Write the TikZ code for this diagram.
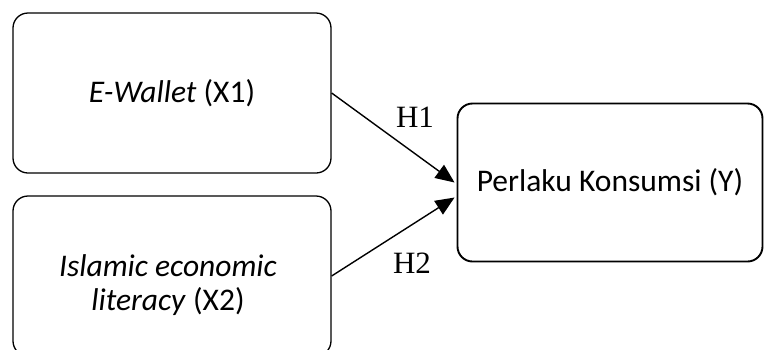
\documentclass[tikz,border=0pt]{standalone}
\usepackage{fontspec}
\setmainfont{Carlito}
\newfontfamily\hfont{Liberation Serif}
\usetikzlibrary{arrows.meta}
\begin{document}
\begin{tikzpicture}[x=1pt,y=-1pt,
  varbox/.style={draw=black,line width=1.3pt,rounded corners=15pt,align=center,inner sep=0pt,
    font=\fontsize{31.5}{34}\selectfont},
  hyparrow/.style={line width=1.4pt,-{Triangle[length=19pt,width=16pt]}},
  hlabel/.style={font=\hfont\fontsize{31}{32}\selectfont,inner sep=0pt}]
\useasboundingbox (0,0) rectangle (764,349);
\clip (0,0) rectangle (764,349);
\node[varbox,minimum width=318pt,minimum height=160pt] (x1) at (172,93) {\textit{E-Wallet} (X1)};
\node[varbox,minimum width=318pt,minimum height=160pt] (x2) at (172,276) {};
\node[font=\fontsize{31.5}{34}\selectfont,align=center,inner sep=0pt] (x2t) at (168,285) {\textit{Islamic economic}\\\textit{literacy} (X2)};
\node[varbox,line width=1.9pt,minimum width=305pt,minimum height=158pt] (y) at (610,182.5) {Perlaku Konsumsi (Y)};
\coordinate (e1) at ([yshift=0pt]y.west);
\coordinate (e2) at ([yshift=-15pt]y.west);
\draw[hyparrow] (x1.east) -- ([xshift=-2pt]e1);
\draw[hyparrow] (x2.east) -- ([xshift=-2pt]e2);
\node[hlabel] (h1) at (415,117) {H1};
\node[hlabel] (h2) at (412,263) {H2};
\end{tikzpicture}
\end{document}
